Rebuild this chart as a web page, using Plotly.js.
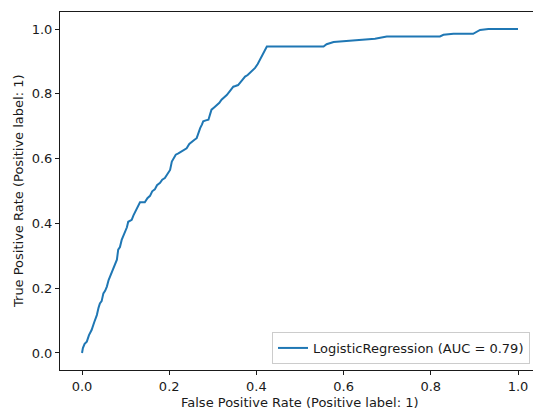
<!DOCTYPE html>
<html>
<head>
<meta charset="utf-8">
<script src="https://cdn.plot.ly/plotly-3.0.1.min.js"></script>
<style>
  html, body { margin: 0; padding: 0; background: #fff; }
  #roc { width: 533px; height: 411px; }
</style>
</head>
<body>
<div id="roc"></div>
<script>
// ROC curve of the logistic regression classifier
const fpr = [0, 0.002, 0.006, 0.011, 0.016, 0.022, 0.028, 0.034, 0.038, 0.041,
  0.045, 0.049, 0.053, 0.057, 0.061, 0.064, 0.069, 0.074, 0.080, 0.083,
  0.087, 0.091, 0.095, 0.099, 0.103, 0.106, 0.110, 0.114, 0.118, 0.122,
  0.127, 0.133, 0.144, 0.150, 0.156, 0.161, 0.167, 0.172, 0.179, 0.184,
  0.190, 0.196, 0.202, 0.206, 0.210, 0.215, 0.221, 0.229, 0.234, 0.240,
  0.246, 0.252, 0.258, 0.263, 0.267, 0.271, 0.275, 0.278, 0.284, 0.290,
  0.294, 0.297, 0.303, 0.309, 0.315, 0.320, 0.326, 0.332, 0.340, 0.347,
  0.352, 0.358, 0.366, 0.374, 0.380, 0.385, 0.391, 0.397, 0.403, 0.408,
  0.412, 0.416, 0.420, 0.424, 0.554, 0.561, 0.577, 0.599, 0.638, 0.672,
  0.699, 0.821, 0.829, 0.852, 0.897, 0.913, 0.932, 1.0];
const tpr = [0, 0.015, 0.028, 0.035, 0.055, 0.071, 0.095, 0.117, 0.140, 0.153,
  0.160, 0.184, 0.192, 0.205, 0.225, 0.236, 0.250, 0.267, 0.288, 0.319,
  0.327, 0.349, 0.362, 0.380, 0.388, 0.405, 0.408, 0.411, 0.425, 0.436,
  0.448, 0.465, 0.465, 0.478, 0.485, 0.499, 0.505, 0.518, 0.525, 0.535,
  0.540, 0.552, 0.565, 0.591, 0.600, 0.612, 0.616, 0.622, 0.627, 0.632,
  0.645, 0.653, 0.658, 0.663, 0.680, 0.694, 0.705, 0.715, 0.718, 0.720,
  0.738, 0.751, 0.758, 0.766, 0.772, 0.782, 0.790, 0.796, 0.810, 0.822,
  0.824, 0.827, 0.840, 0.853, 0.858, 0.864, 0.872, 0.880, 0.892, 0.905,
  0.915, 0.925, 0.936, 0.946, 0.946, 0.953, 0.960, 0.962, 0.965, 0.970,
  0.977, 0.977, 0.982, 0.985, 0.985, 0.997, 1.0, 1.0];
const aucLabel = 'LogisticRegression (AUC = 0.79)';
const tickVals = [0, 0.2, 0.4, 0.6, 0.8, 1.0];
const tickText = ['0.0', '0.2', '0.4', '0.6', '0.8', '1.0'];
const xTitle = 'False Positive Rate (Positive label: 1)';
const yTitle = 'True Positive Rate (Positive label: 1)';

const FONT = 'DejaVu Sans, sans-serif';
const INK = '#1a1a1a';

const trace = {
  x: fpr, y: tpr, type: 'scatter', mode: 'lines',
  name: aucLabel,
  line: { color: '#1f77b4', width: 2 }
};

const axisCommon = {
  tickvals: tickVals, ticktext: tickText,
  ticks: 'outside', ticklen: 4, tickwidth: 1, tickcolor: INK,
  showgrid: false, zeroline: false,
  showline: true, linecolor: INK, linewidth: 1,
  tickfont: { family: FONT, size: 13, color: INK }
};

const layout = {
  width: 533, height: 411,
  margin: { l: 60, r: 0, t: 12, b: 41 },
  paper_bgcolor: '#fff', plot_bgcolor: '#fff',
  showlegend: true,
  xaxis: Object.assign({}, axisCommon, { range: [-0.0505, 1.0344], mirror: true }),
  yaxis: Object.assign({}, axisCommon, { range: [-0.0525, 1.0525], mirror: false }),
  legend: {
    x: 0.9937, y: 0.0168, xanchor: 'right', yanchor: 'bottom',
    bgcolor: 'rgba(255,255,255,0.8)', bordercolor: '#cccccc', borderwidth: 1,
    font: { family: FONT, size: 13, color: INK }
  },
  annotations: [
    { text: xTitle, xref: 'x', x: 0.5, yref: 'paper', y: -0.0913,
      xanchor: 'center', yanchor: 'middle', showarrow: false,
      font: { family: FONT, size: 13, color: INK } },
    { text: yTitle, xref: 'paper', x: -0.0888, yref: 'y', y: 0.5,
      xanchor: 'center', yanchor: 'middle', showarrow: false, textangle: -90,
      font: { family: FONT, size: 13, color: INK } }
  ]
};

Plotly.newPlot('roc', [trace], layout, { staticPlot: true, displayModeBar: false });
</script>
</body>
</html>
